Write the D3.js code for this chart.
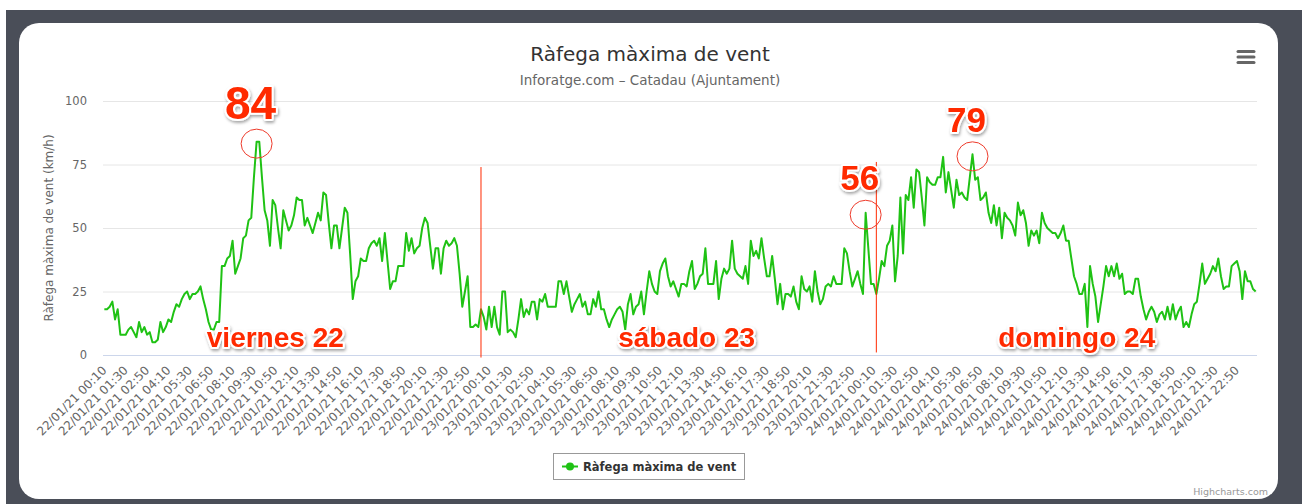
<!DOCTYPE html>
<html>
<head>
<meta charset="utf-8">
<script src="https://cdn.jsdelivr.net/npm/d3@7"></script>
<style>
  html, body { margin: 0; padding: 0; background: #fff; }
  svg { display: block; }
</style>
</head>
<body>
<svg id="chart" width="1302" height="504"></svg>
<script>
// Ràfega màxima de vent - Catadau, 22-24/01/21

// titles
const chartTitle = 'Ràfega màxima de vent';
const chartSubtitle = 'Inforatge.com – Catadau (Ajuntament)';
const yTitle = 'Ràfega màxima de vent (km/h)';
const seriesName = 'Ràfega màxima de vent';

// y axis ticks
const yTicks = [0, 25, 50, 75, 100];

// categories: one every 10 minutes, from 22/01/21 00:10, labels every 8th
const startTime = new Date(2021, 0, 22, 0, 10);
const pointCount = 432;
const tickEvery = 8;

// gust values (km/h), one list per day
const day22 = [18, 18, 19, 21, 14, 18, 8, 8, 8, 10, 11, 9, 7, 13, 9, 11, 8, 9, 5, 5,
  6, 13, 9, 11, 14, 13, 17, 20, 19, 22, 24, 25, 22, 24, 24, 25, 27, 22, 18, 13,
  10, 10, 13, 13, 35, 35, 38, 39, 45, 32, 35, 38, 46, 47, 53, 54, 70, 84, 84, 70,
  57, 53, 43, 61, 59, 50, 42, 57, 53, 49, 51, 55, 62, 61, 61, 51, 54, 51, 48, 52,
  56, 53, 64, 63, 52, 42, 51, 51, 42, 50, 58, 56, 40, 22, 29, 31, 38, 37, 37, 42,
  44, 45, 43, 46, 37, 48, 37, 26, 29, 29, 35, 35, 35, 48, 41, 46, 40, 42, 43, 50,
  54, 52, 43, 34, 42, 42, 32, 42, 45, 43, 44, 46, 43, 32, 19, 25, 31, 11, 11, 12,
  11, 18, 15, 10];
const day23 = [19, 11, 19, 11, 8, 25, 25, 9, 10, 9, 7, 14, 22, 15, 18, 16, 21, 21, 14, 22,
  21, 24, 19, 19, 19, 19, 29, 29, 24, 29, 23, 17, 20, 22, 24, 19, 21, 16, 16, 22,
  19, 25, 18, 18, 14, 11, 14, 16, 18, 19, 17, 10, 20, 24, 16, 19, 20, 25, 16, 25,
  33, 28, 25, 24, 33, 36, 38, 31, 27, 29, 26, 23, 28, 28, 27, 33, 37, 26, 28, 31,
  32, 42, 28, 28, 28, 37, 22, 30, 34, 32, 34, 45, 34, 32, 31, 30, 35, 28, 45, 39,
  41, 38, 46, 38, 31, 31, 39, 30, 20, 28, 18, 24, 24, 23, 27, 21, 18, 31, 26, 25,
  27, 21, 33, 25, 20, 22, 27, 28, 27, 31, 28, 28, 28, 42, 40, 33, 27, 30, 33, 28,
  24, 56, 42, 28];
const day24 = [28, 24, 30, 37, 35, 43, 45, 51, 29, 39, 62, 40, 63, 61, 70, 58, 73, 72, 62, 51,
  70, 68, 67, 67, 70, 70, 78, 64, 72, 65, 58, 69, 63, 64, 62, 61, 70, 79, 69, 70,
  61, 62, 64, 56, 52, 59, 51, 58, 46, 56, 54, 53, 51, 47, 60, 55, 57, 52, 43, 49,
  47, 49, 44, 56, 52, 50, 49, 48, 48, 46, 48, 51, 45, 45, 38, 31, 28, 24, 24, 28,
  11, 35, 28, 23, 13, 20, 27, 35, 31, 35, 31, 36, 30, 32, 24, 25, 25, 24, 30, 30,
  23, 18, 14, 17, 19, 17, 13, 16, 17, 14, 19, 14, 20, 14, 17, 19, 11, 13, 11, 16,
  20, 21, 28, 36, 28, 30, 32, 35, 33, 38, 31, 26, 27, 27, 35, 36, 37, 33, 22, 33,
  29, 29, 26, 25];

// hand drawn notes on the picture
const peakNotes = [ { cat: 57, value: 84, text: '84', size: 46 },
                    { cat: 285, value: 56, text: '56', size: 35 },
                    { cat: 325, value: 79, text: '79', size: 35 } ];
const dayNotes = [ { cat: 64, text: 'viernes 22' },
                   { cat: 218, text: 'sábado 23' },
                   { cat: 364, text: 'domingo 24' } ];
// separators: category, top and bottom value of the red stroke
const dayLines = [ { cat: 141, from: 74, to: -1 }, { cat: 289, from: 76, to: 1 } ];

var values = day22.concat(day23, day24);
var fmt = d3.timeFormat('%d/%m/%y %H:%M');
var categories = d3.range(pointCount).map(function (i) {
  return fmt(d3.timeMinute.offset(startTime, i * 10));
});
var tickLabels = categories.filter(function (d, i) { return i % tickEvery === 0; });

const W = 1302, H = 504;
const plot = { left: 103, right: 1257, top: 101, bottom: 355 };
const green = '#1fc214';
const red = '#ff2a00';

var svg = d3.select('#chart');

// drop shadow for the hand written notes
var defs = svg.append('defs');
var f = defs.append('filter').attr('id', 'shadow')
  .attr('x', '-20%').attr('y', '-20%').attr('width', '140%').attr('height', '160%');
f.append('feDropShadow').attr('dx', 1).attr('dy', 2).attr('stdDeviation', 1.5)
  .attr('flood-color', '#000').attr('flood-opacity', 0.35);

// page background and card
svg.append('rect').attr('width', W).attr('height', H).attr('fill', '#fff');
svg.append('rect').attr('x', 6).attr('y', 10).attr('width', W - 6).attr('height', H - 10)
  .attr('fill', '#4a4e58');
svg.append('rect').attr('x', 19).attr('y', 23).attr('width', 1259).attr('height', 476)
  .attr('rx', 20).attr('fill', '#fff');

// scales
var x = d3.scaleBand().domain(categories).range([plot.left, plot.right]);
var y = d3.scaleLinear().domain([0, 100]).range([plot.bottom, plot.top]);
function cx(c) { return x(c) + x.bandwidth() / 2; }

// titles
svg.append('text').attr('x', 650).attr('y', 61).attr('text-anchor', 'middle')
  .style('font', '20px "DejaVu Sans"').attr('fill', '#333').text(chartTitle);
svg.append('text').attr('x', 650).attr('y', 85).attr('text-anchor', 'middle')
  .style('font', '13.5px "DejaVu Sans"').attr('fill', '#666').text(chartSubtitle);

// gridlines
svg.append('g').selectAll('line')
  .data(yTicks.filter(function (d) { return d > 0; }))
  .enter().append('line')
  .attr('x1', plot.left).attr('x2', plot.right)
  .attr('y1', function (d) { return y(d) + 0.5; })
  .attr('y2', function (d) { return y(d) + 0.5; })
  .attr('stroke', '#e6e6e6');

// y axis
var yAxis = svg.append('g').attr('transform', 'translate(' + (plot.left - 16) + ',0)')
  .call(d3.axisLeft(y).tickValues(yTicks).tickSize(0).tickPadding(0));
yAxis.select('.domain').remove();
yAxis.selectAll('text').style('font', '11.5px "DejaVu Sans"').attr('fill', '#666');

svg.append('text')
  .attr('transform', 'translate(53,' + ((plot.top + plot.bottom) / 2) + ') rotate(-90)')
  .attr('text-anchor', 'middle')
  .style('font', '12px "DejaVu Sans"').attr('fill', '#666').text(yTitle);

// x axis
var xAxis = svg.append('g').attr('transform', 'translate(0,' + plot.bottom + ')')
  .call(d3.axisBottom(x).tickValues(tickLabels).tickSize(0).tickPadding(0));
xAxis.select('.domain').attr('stroke', '#ccd6eb').attr('d', 'M' + plot.left + ',0.5H' + plot.right);
xAxis.selectAll('text')
  .style('font', '12px "DejaVu Sans"').attr('fill', '#666')
  .attr('text-anchor', 'end').attr('dy', null).attr('y', 0)
  .attr('transform', 'translate(3,16) rotate(-45)');

// the series
var line = d3.line()
  .x(function (d, i) { return cx(categories[i]); })
  .y(function (d) { return y(d); });
svg.append('path').datum(values)
  .attr('d', line).attr('fill', 'none')
  .attr('stroke', green).attr('stroke-width', 2).attr('stroke-linejoin', 'round');

// red day separators
svg.append('g').selectAll('line').data(dayLines).enter().append('line')
  .attr('x1', function (d) { return cx(categories[d.cat]); })
  .attr('x2', function (d) { return cx(categories[d.cat]); })
  .attr('y1', function (d) { return y(d.from); })
  .attr('y2', function (d) { return y(d.to); })
  .attr('stroke', red).attr('stroke-width', 1);

// circles round the peaks
svg.append('g').selectAll('ellipse').data(peakNotes).enter().append('ellipse')
  .attr('cx', function (d) { return cx(categories[d.cat]); })
  .attr('cy', function (d) { return y(d.value) + 2; })
  .attr('rx', 15.5).attr('ry', 14.5)
  .attr('fill', 'none').attr('stroke', '#ee3b2b').attr('stroke-width', 1);

function note(sel) {
  sel.attr('text-anchor', 'middle')
    .attr('fill', red).attr('stroke', '#fff').attr('stroke-width', 4)
    .attr('stroke-linejoin', 'round').attr('paint-order', 'stroke')
    .attr('filter', 'url(#shadow)');
}

svg.append('g').selectAll('text').data(peakNotes).enter().append('text')
  .attr('x', function (d) { return cx(categories[d.cat]) - 6; })
  .attr('y', function (d) { return y(d.value) + 2 - 14.5 - 10; })
  .style('font', function (d) { return 'bold ' + d.size + 'px "Liberation Sans"'; })
  .text(function (d) { return d.text; })
  .call(note);

svg.append('g').selectAll('text').data(dayNotes).enter().append('text')
  .attr('x', function (d) { return cx(categories[d.cat]); })
  .attr('y', plot.bottom - 8)
  .style('font', 'bold 28px "Liberation Sans"')
  .text(function (d) { return d.text; })
  .call(note);

// legend
var lg = svg.append('g').attr('transform', 'translate(553,453)');
lg.append('rect').attr('x', 0.5).attr('y', 0.5).attr('width', 191).attr('height', 26)
  .attr('fill', '#fff').attr('stroke', '#999');
lg.append('line').attr('x1', 9).attr('x2', 25).attr('y1', 13.5).attr('y2', 13.5)
  .attr('stroke', green).attr('stroke-width', 2);
lg.append('circle').attr('cx', 17).attr('cy', 13.5).attr('r', 4).attr('fill', green);
lg.append('text').attr('x', 30).attr('y', 18)
  .style('font', 'bold 11.5px "DejaVu Sans"').attr('fill', '#333').text(seriesName);

// menu button
svg.append('g').selectAll('line').data([0, 1, 2]).enter().append('line')
  .attr('x1', 1238).attr('x2', 1254)
  .attr('y1', function (d) { return 51.5 + d * 5.5; })
  .attr('y2', function (d) { return 51.5 + d * 5.5; })
  .attr('stroke', '#666').attr('stroke-width', 3).attr('stroke-linecap', 'round');

// credits
svg.append('text').attr('x', 1268).attr('y', 495).attr('text-anchor', 'end')
  .style('font', '9.5px "DejaVu Sans"').attr('fill', '#999').text('Highcharts.com');
</script>
</body>
</html>
